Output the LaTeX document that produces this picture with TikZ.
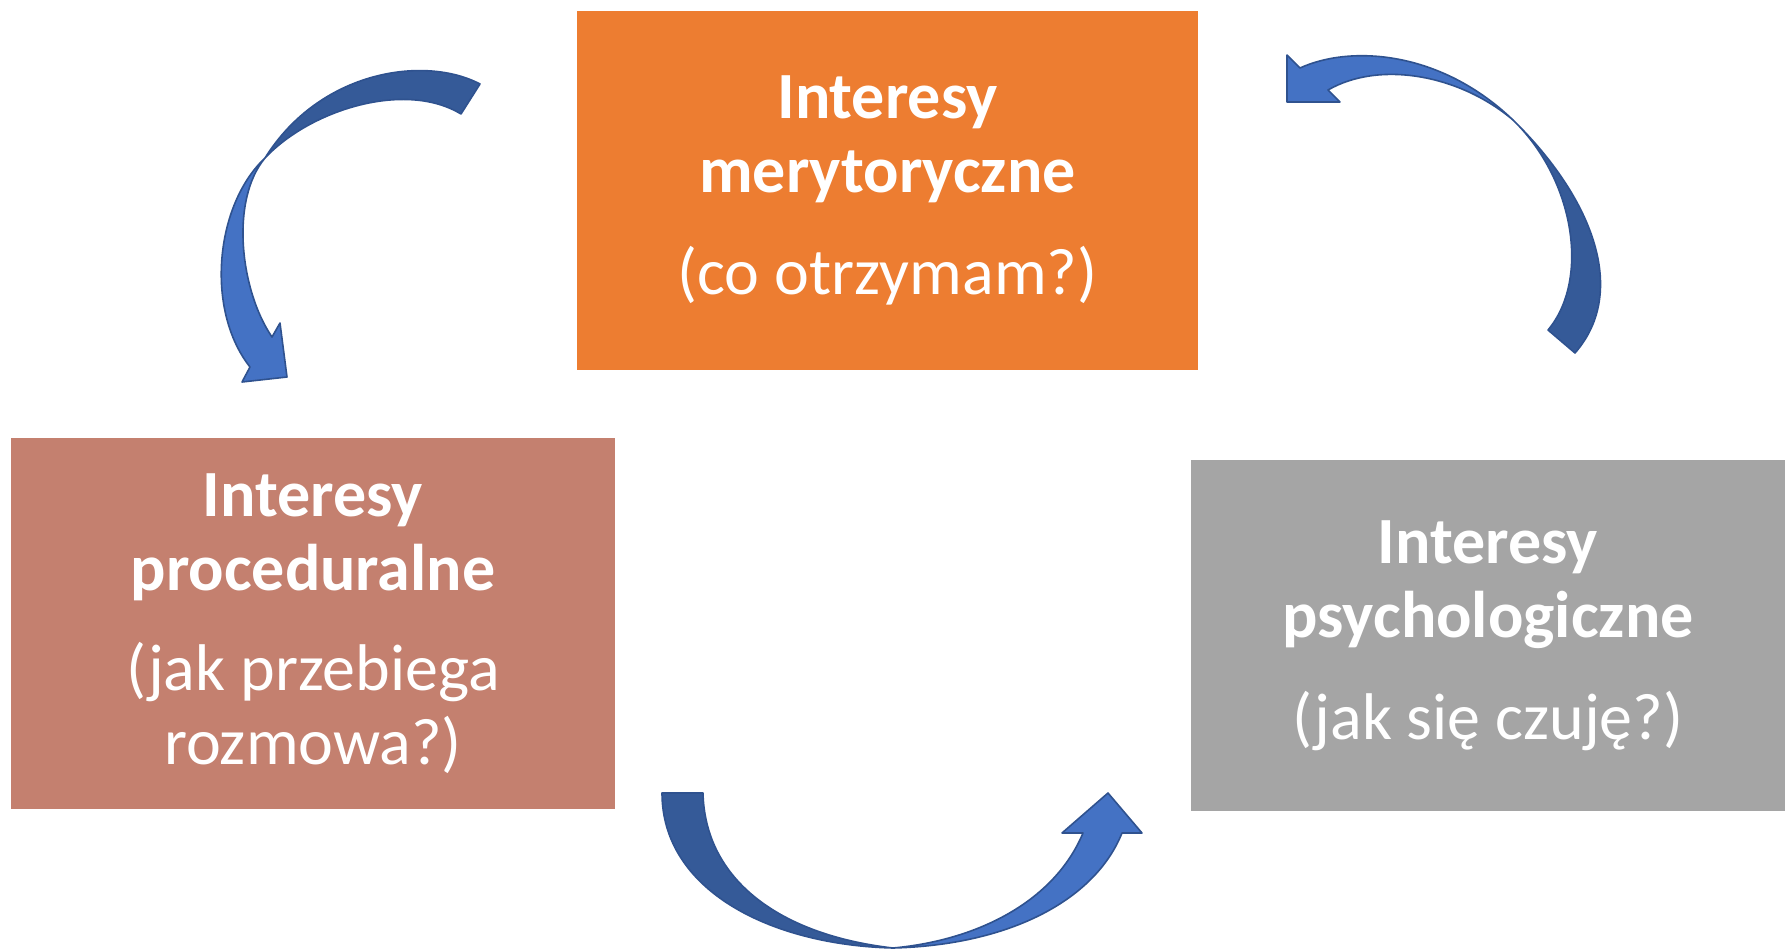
\documentclass[tikz,border=0pt]{standalone}
\usepackage{fontspec}
\setmainfont{Carlito}
\definecolor{meryt}{HTML}{ED7D31}
\definecolor{proced}{HTML}{C4806F}
\definecolor{psych}{HTML}{A5A5A5}
\definecolor{arrdark}{HTML}{355A98}
\definecolor{arrlight}{HTML}{4472C4}
\definecolor{arredge}{HTML}{2F528F}
\tikzset{
  box/.style={inner sep=0pt, text=white, align=center, font=\fontsize{33}{37}\selectfont},
  ribbon/.style={draw=arredge, line width=0.8pt, line join=round}
}

\begin{document}
\begin{tikzpicture}[x=0.5pt,y=-0.5pt]
            \useasboundingbox (0,0) rectangle (1785,950);
            \node[box,fill=meryt,minimum width=310.5pt,minimum height=179.5pt] (meryt) at (887.5,190.5)
                {\textbf{Interesy}\\\textbf{merytoryczne}\\[14pt](co otrzymam?)};
            \node[box,fill=proced,minimum width=302pt,minimum height=185.5pt] (proced) at (313,623.5)
                {\textbf{Interesy}\\\textbf{proceduralne}\\[13pt](jak przebiega\\rozmowa?)};
            \node[box,fill=psych,minimum width=297pt,minimum height=175.5pt] (psych) at (1488,635.5)
                {\textbf{Interesy}\\\textbf{psychologiczne}\\[14pt](jak się czuję?)};
            % meryt -> proced
            \coordinate (tl) at (265,158);
            \filldraw[ribbon,fill=arrdark] (480,84) .. controls (425,55) and (320,70) .. (tl)
                .. controls (310,110) and (405,80) .. (461,114) -- cycle;
            \filldraw[ribbon,fill=arrlight] (tl) .. controls (215,205) and (205,310) .. (250,367)
                -- (242,382) -- (287,377) -- (280,323) -- (272,337)
                .. controls (240,290) and (230,200) .. (tl) -- cycle;
            % proced -> psych
            \coordinate (bm) at (893,948);
            \filldraw[ribbon,fill=arrdark] (662,793) .. controls (662,890) and (770,945) .. (bm)
                .. controls (780,935) and (705,880) .. (703,793) -- cycle;
            \filldraw[ribbon,fill=arrlight] (bm) .. controls (1010,945) and (1095,900) .. (1122,833)
                -- (1142,833) -- (1108,793) -- (1062,833) -- (1083,833)
                .. controls (1055,900) and (980,940) .. (bm) -- cycle;
            % psych -> meryt
            \coordinate (tr) at (1513,120);
            \filldraw[ribbon,fill=arrdark] (tr) .. controls (1590,195) and (1630,290) .. (1575,353)
                -- (1548,330) .. controls (1590,280) and (1575,180) .. (tr) -- cycle;
            \filldraw[ribbon,fill=arrlight] (tr) .. controls (1460,75) and (1380,60) .. (1328,90)
                -- (1340,102) -- (1287,102) -- (1287,55) -- (1300,68)
                .. controls (1350,45) and (1440,50) .. (tr) -- cycle;
        \end{tikzpicture}
\end{document}
